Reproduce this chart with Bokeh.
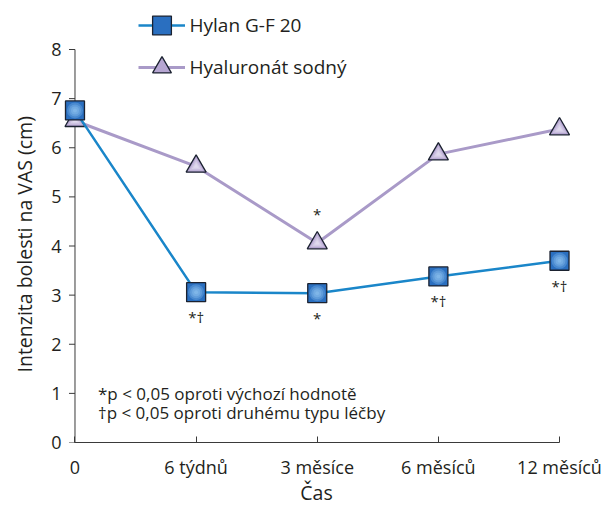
from bokeh.plotting import figure
from bokeh.models import Range1d, FixedTicker, Label, Legend, LegendItem, ColumnDataSource, Title
from bokeh.embed import file_html
from bokeh.resources import INLINE
from bokeh.core.properties import value

# ---------------- data ----------------
times = ["0", "6 týdnů", "3 měsíce", "6 měsíců", "12 měsíců"]
x_pos = [0, 1, 2, 3, 4]
hylan = [6.76, 3.06, 3.04, 3.38, 3.70]
hyal = [6.55, 5.62, 4.06, 5.87, 6.38]
hylan_sig = ["", "*†", "*", "*†", "*†"]
hyal_sig = ["", "", "*", "", ""]
y_ticks = [0, 1, 2, 3, 4, 5, 6, 7, 8]
series_names = ["Hylan G-F 20", "Hyaluronát sodný"]
y_title = "Intenzita bolesti na VAS (cm)"
x_title = "Čas"
note1 = "*p < 0,05 oproti výchozí hodnotě"
note2 = "†p < 0,05 oproti druhému typu léčby"

# ---------------- styles ----------------
FONT = "Open Sans"
TXT = "#231f20"
AX = "#3a3a3a"
BLUE_LINE = "#1a86c9"
BLUE_FILL = "#2a6fc0"
BLUE_GLOW = "#a6d6fa"
LAV_LINE = "#a99ac8"
LAV_FILL = "#b6a6d2"
LAV_GLOW = "#f2eef8"
EDGE = "#1b2230"

W, H = 602, 508
L_est, R = 61.5, 570
x0_px, x4_px = 74, 559
px_x = (x4_px - x0_px) / 4.0
x_start = -(x0_px - L_est) / px_x
x_end = 4 + (R - x4_px) / px_x
top_px, y0_px, y8_px = 5, 442, 49
px_y = (y0_px - y8_px) / 8.0
y_end = (y0_px - top_px) / px_y

p = figure(width=W, height=H, title=None, output_backend="svg", toolbar_location=None,
           x_range=Range1d(x_start, x_end), y_range=Range1d(0, y_end),
           min_border_left=0, min_border_right=W - R, min_border_top=top_px,
           min_border_bottom=H - y0_px)
p.outline_line_color = None
p.xgrid.visible = False
p.ygrid.visible = False
p.background_fill_color = "white"
p.border_fill_color = "white"

# x axis
xa = p.xaxis[0]
xa.ticker = FixedTicker(ticks=x_pos)
xa.major_label_overrides = {x: t for x, t in zip(x_pos, times)}
xa.bounds = (x_pos[0], x_pos[-1])
xa.axis_line_color = AX
xa.major_tick_line_color = AX
xa.major_tick_in = 6
xa.major_tick_out = 0
xa.minor_tick_line_color = None
xa.major_label_standoff = 12
xa.major_label_text_font = FONT
xa.major_label_text_font_size = "18px"
xa.major_label_text_color = TXT
xa.axis_label = x_title
xa.axis_label_standoff = -3
xa.axis_label_text_font = FONT
xa.axis_label_text_font_size = "19.5px"
xa.axis_label_text_font_style = "normal"
xa.axis_label_text_color = TXT

# y axis (labels only; line and ticks drawn at x = 0)
ya = p.yaxis[0]
ya.ticker = FixedTicker(ticks=y_ticks)
ya.axis_line_color = None
ya.major_tick_line_color = None
ya.minor_tick_line_color = None
ya.major_tick_in = 0
ya.major_tick_out = 0
ya.major_label_standoff = 1
ya.major_label_text_font = FONT
ya.major_label_text_font_size = "18px"
ya.major_label_text_color = TXT

p.add_layout(Title(text=y_title, align="left", offset=70, vertical_align="middle", standoff=19,
                   text_font=FONT, text_font_size="19.5px", text_font_style="normal",
                   text_color=TXT), "left")

tick_len = 6 / px_x
p.segment(x0=[0], y0=[y_ticks[0]], x1=[0], y1=[y_ticks[-1]], line_color=AX, line_width=1)
p.segment(x0=[-tick_len] * len(y_ticks), y0=y_ticks, x1=[0] * len(y_ticks), y1=y_ticks,
          line_color=AX, line_width=1)

src = ColumnDataSource(dict(x=x_pos, hylan=hylan, hyal=hyal, hylan_sig=hylan_sig, hyal_sig=hyal_sig))

# Hyaluronat sodny
l2 = p.line("x", "hyal", source=src, line_color=LAV_LINE, line_width=3)
m2 = p.scatter("x", "hyal", source=src, marker="triangle", size=20, fill_color=LAV_FILL,
               line_color=EDGE, line_width=1.3)
for s in [14, 9, 5]:
    p.scatter("x", "hyal", source=src, marker="triangle", size=s, fill_color=LAV_GLOW,
              fill_alpha=0.35, line_color=None)

# Hylan G-F 20
l1 = p.line("x", "hylan", source=src, line_color=BLUE_LINE, line_width=2.5)
m1 = p.scatter("x", "hylan", source=src, marker="square", size=19, fill_color=BLUE_FILL,
               line_color=EDGE, line_width=1.3)
for s in [16, 12, 8, 4]:
    p.scatter("x", "hylan", source=src, marker="circle", size=s, fill_color=BLUE_GLOW,
              fill_alpha=0.25, line_color=None)

# significance marks
p.text("x", "hylan", text="hylan_sig", source=src, text_font=value(FONT), text_font_size="15px",
       text_align="center", text_baseline="middle", y_offset=25, text_color=TXT)
p.text("x", "hyal", text="hyal_sig", source=src, text_font=value(FONT), text_font_size="15px",
       text_align="center", text_baseline="middle", y_offset=-29, text_color=TXT)

# legend (one per series so the two rows can sit 42 px apart with full-size markers)
leg_common = dict(glyph_width=47, glyph_height=48, spacing=0, padding=0, margin=0,
                  label_standoff=5, border_line_color=None, background_fill_alpha=0,
                  label_text_font=FONT, label_text_font_size="19px", label_text_color=TXT,
                  label_text_baseline="middle")
leg1 = Legend(items=[LegendItem(label=series_names[0], renderers=[l1, m1])],
              location=(137 - L_est, y0_px - 49), **leg_common)
leg2 = Legend(items=[LegendItem(label=series_names[1], renderers=[l2, m2])],
              location=(137 - L_est, y0_px - 91), **leg_common)
p.add_layout(leg1)
p.add_layout(leg2)

# notes
p.add_layout(Label(x=0.19, y=1.0, text=note1, text_align="left", text_baseline="middle",
                   text_font=FONT, text_font_size="17px", text_color=TXT))
p.add_layout(Label(x=0.19, y=0.61, text=note2, text_align="left", text_baseline="middle",
                   text_font=FONT, text_font_size="17px", text_color=TXT))

open("out.html", "w").write(file_html(p, INLINE))
